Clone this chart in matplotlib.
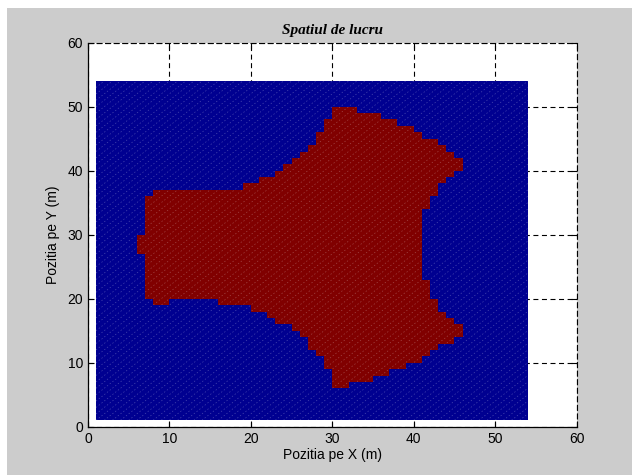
import numpy as np
import matplotlib
matplotlib.use("Agg")
import matplotlib.pyplot as plt
from matplotlib.colors import ListedColormap
from matplotlib.collections import LineCollection
from matplotlib.patches import Rectangle

# ---- data -------------------------------------------------------------
grid_min = 1          # workspace grid spans 1..54 on both axes
grid_max = 54
# red (reachable) cells: for each row y (cell spans y..y+1), segments [x_start, x_end)
seg_row   = [6, 7, 8, 9, 10, 11, 12, 13, 14, 15, 16, 17, 18, 19, 19,
             20, 21, 22, 23, 24, 25, 26, 27, 28, 29, 30, 31, 32, 33,
             34, 35, 36, 37, 38, 39, 40, 41, 42, 43, 44, 45, 46, 47, 48, 49]
seg_start = [30, 30, 30, 29, 29, 28, 27, 27, 26, 25, 23, 22, 20, 8, 16,
             7, 7, 7, 7, 7, 7, 7, 6, 6, 6, 7, 7, 7, 7,
             7, 7, 8, 19, 21, 23, 24, 25, 26, 27, 28, 28, 29, 29, 30, 30]
seg_end   = [32, 35, 37, 39, 41, 42, 43, 45, 46, 46, 45, 44, 43, 10, 43,
             42, 42, 42, 41, 41, 41, 41, 41, 41, 41, 41, 41, 41, 41,
             42, 42, 43, 43, 44, 45, 46, 46, 45, 44, 43, 41, 40, 38, 36, 33]
x_ticks = [0, 10, 20, 30, 40, 50, 60]
y_ticks = [0, 10, 20, 30, 40, 50, 60]
title_text = "Spatiul de lucru"
x_label = "Pozitia pe X (m)"
y_label = "Pozitia pe Y (m)"

# ---- build matrix -----------------------------------------------------
edges = np.arange(grid_min, grid_max + 1)
n = len(edges) - 1
C = np.zeros((n, n))
for r, a, b in zip(seg_row, seg_start, seg_end):
    C[r - grid_min, a - grid_min:b - grid_min] = 1

# ---- figure -----------------------------------------------------------
W, H = 632, 475
fig = plt.figure(figsize=(W / 100, H / 100), dpi=100)
fig.patch.set_facecolor("white")
fig.patches.append(Rectangle((7 / W, 0), 1 - 7 / W, 1 - 8 / H,
                             transform=fig.transFigure, facecolor="#cccccc",
                             edgecolor="none", zorder=-10))

ax = fig.add_axes([87.9 / W, 1 - 426.7 / H, (576.6 - 87.9) / W, (426.7 - 42.7) / H])
ax.set_zorder(1)
ax.set_facecolor("white")
ax.set_axisbelow(True)

cmap = ListedColormap(["#000090", "#800000"])
ax.pcolormesh(edges, edges, C, cmap=cmap, vmin=0, vmax=1, shading="flat", zorder=1)

# faint triangulation seams (cell diagonals), as in the MATLAB rendering
segs = []
for k in range(-(n - 1), n):
    if k >= 0:
        segs.append([(grid_min, grid_min + k), (grid_max - k, grid_max)])
    else:
        segs.append([(grid_min - k, grid_min), (grid_max, grid_max + k)])
lc = LineCollection(segs, colors=[(1, 1, 1, 0.28)], linewidths=0.5,
                    linestyles=[(0, (2.0, 3.0))], zorder=2)
ax.add_collection(lc)

ax.set_xlim(0, 60)
ax.set_ylim(0, 60)
ax.set_xticks(x_ticks)
ax.set_yticks(y_ticks)

font = ["Liberation Sans", "DejaVu Sans"]
ax.tick_params(direction="in", length=4, width=0.8, top=True, right=True,
               labelsize=10, pad=3.5, colors="black")
for lab in ax.get_xticklabels() + ax.get_yticklabels():
    lab.set_family(font)

ax.grid(True, color="black", linewidth=0.8, linestyle=(0, (4.5, 3.2)))
for s in ["left", "bottom"]:
    ax.spines[s].set_linewidth(0.9)
for s in ["top", "right"]:
    ax.spines[s].set_linewidth(0.8)
    ax.spines[s].set_linestyle((0, (4.5, 3.2)))

ax.set_xlabel(x_label, fontsize=10, family=font, labelpad=2)
ax.set_ylabel(y_label, fontsize=10, family=font, labelpad=5)
ax.set_title(title_text, fontsize=11, family=["Liberation Serif", "DejaVu Serif"],
             fontweight="bold", fontstyle="italic", pad=6)

fig.savefig("out.png", dpi=100)
